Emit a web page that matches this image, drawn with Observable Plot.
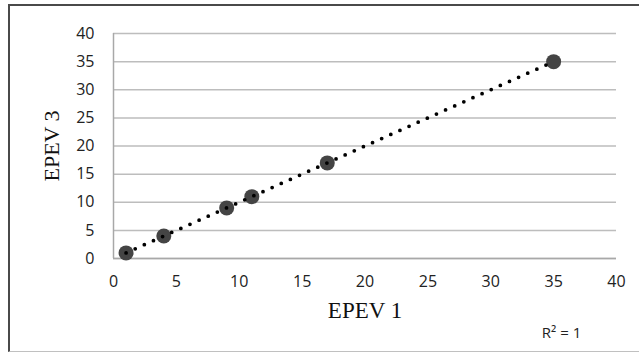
<!DOCTYPE html>
<html>
<head>
<meta charset="utf-8">
<script src="https://cdn.jsdelivr.net/npm/d3@7"></script>
<script src="https://cdn.jsdelivr.net/npm/@observablehq/plot@0.6"></script>
<style>
  html, body { margin: 0; padding: 0; background: #fff; }
  #wrap { position: relative; width: 639px; height: 354px; overflow: hidden; }
  #border { position: absolute; left: 8px; top: 4px; width: 640px; height: 348px;
    border-top: 2px solid #4a4a4a; border-left: 2px solid #4a4a4a; border-bottom: 1px solid #c0c0c0; box-sizing: border-box; }
  #chart { position: absolute; left: 0; top: 0; }
</style>
</head>
<body>
<div id="wrap"><div id="border"></div><div id="chart"></div></div>
<script>
const epev1 = [1, 4, 9, 11, 17, 35];
const epev3 = [1, 4, 9, 11, 17, 35];
const xTicks = [0, 5, 10, 15, 20, 25, 30, 35, 40];
const yTicks = [0, 5, 10, 15, 20, 25, 30, 35, 40];
const xTitle = "EPEV 1";
const yTitle = "EPEV 3";
const r2Label = "R² = 1";

const points = epev1.map((x, i) => ({x, y: epev3[i]}));
// linear trend (least squares) from the data
const mx = d3.mean(epev1), my = d3.mean(epev3);
const slope = d3.sum(points, d => (d.x - mx) * (d.y - my)) / d3.sum(points, d => (d.x - mx) ** 2);
const icpt = my - slope * mx;
const xmin = d3.min(epev1), xmax = d3.max(epev1);
const trend = [{x: xmin, y: icpt + slope * xmin}, {x: xmax, y: icpt + slope * xmax}];

const sans = "'Open Sans', 'Liberation Sans', sans-serif";
const serif = "'Liberation Serif', 'Times New Roman', serif";

const chart = Plot.plot({
  width: 639,
  height: 354,
  marginLeft: 113,
  marginRight: 23,
  marginTop: 33,
  marginBottom: 96,
  style: {fontFamily: sans, fontSize: "16px", color: "#222", background: "transparent"},
  x: {domain: [0, 40], ticks: xTicks, label: null},
  y: {domain: [0, 40], ticks: yTicks, label: null},
  marks: [
    Plot.gridY(yTicks, {stroke: "#bdbdbd", strokeOpacity: 1, strokeWidth: 1.5}),
    Plot.ruleX([0], {stroke: "#a8a8a8", strokeWidth: 1.5}),
    Plot.ruleY([0], {stroke: "#a8a8a8", strokeWidth: 1.5}),
    Plot.axisX(xTicks, {tickSize: 0, tickPadding: 17, fontSize: 16, fill: "#222"}),
    Plot.axisY(yTicks, {tickSize: 0, tickPadding: 19, fontSize: 16, fill: "#222"}),
    Plot.dot(points, {x: "x", y: "y", r: 7.5, fill: "#444", stroke: "none"}),
    Plot.line(trend, {x: "x", y: "y", stroke: "#000", strokeWidth: 3.8, strokeDasharray: "0 10", strokeLinecap: "round"}),
    Plot.text([yTitle], {frameAnchor: "left", dx: -62, textAnchor: "middle", rotate: -90, fontSize: 22, fontFamily: serif, fill: "#111"}),
    Plot.text([xTitle], {frameAnchor: "bottom", dy: 59, fontSize: 23, fontFamily: serif, fill: "#111"}),
    Plot.text([r2Label], {frameAnchor: "bottom-right", dx: -55, dy: 79, fontSize: 15, fontFamily: sans, fill: "#222", textAnchor: "middle"})
  ]
});
document.getElementById("chart").appendChild(chart);
</script>
</body>
</html>
